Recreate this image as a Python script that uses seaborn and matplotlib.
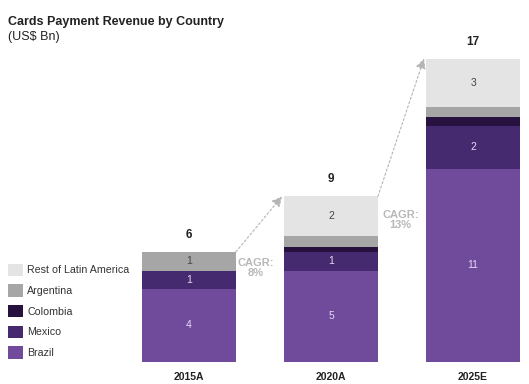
import numpy as np
import pandas as pd
import matplotlib.pyplot as plt
import seaborn as sns
from matplotlib.patches import Patch

sns.set_style('white')
plt.rcParams['font.family'] = ['Liberation Sans', 'DejaVu Sans']

years = ['2015A', '2020A', '2025E']
brazil = [4.1, 5.1, 10.8]
mexico = [1.0, 1.05, 2.4]
colombia = [0.0, 0.3, 0.5]
argentina = [1.05, 0.6, 0.55]
rest = [0.0, 2.2, 2.7]

series = ['Brazil', 'Mexico', 'Colombia', 'Argentina', 'Rest of Latin America']
colors = ['#704a9b', '#462a70', '#27123f', '#a6a6a6', '#e4e4e4']
seg_labels = {
    'Brazil': ['4', '5', '11'],
    'Mexico': ['1', '1', '2'],
    'Argentina': ['1', '', ''],
    'Rest of Latin America': ['', '2', '3'],
}
total_labels = ['6', '9', '17']
cagr_labels = ['CAGR:\n8%', 'CAGR:\n13%']

df = pd.DataFrame({'year': years, 'Brazil': brazil, 'Mexico': mexico,
                   'Colombia': colombia, 'Argentina': argentina,
                   'Rest of Latin America': rest})
cum = df[series].cumsum(axis=1)
totals = cum[series[-1]].values

fig = plt.figure(figsize=(5.29, 3.84), dpi=100)
ax = fig.add_axes([0, 0, 1, 1])

# stacked bars: draw cumulative heights from top layer down
for s, c in zip(series[::-1], colors[::-1]):
    sns.barplot(x=df['year'], y=cum[s], color=c, width=0.66, ax=ax,
                saturation=1, linewidth=0)

ax.set_xlim(-1.331, 2.394)
ax.set_ylim(-1.229, 20.22)
ax.axis('off')

# segment labels
for s in series:
    if s not in seg_labels:
        continue
    for i in range(len(years)):
        lab = seg_labels[s][i]
        if not lab:
            continue
        top = cum[s][i]
        val = df[s][i]
        col = '#444444' if s in ('Argentina', 'Rest of Latin America') else '#e6d9f5'
        ax.text(i, top - val / 2, lab, ha='center', va='center', fontsize=7.5, color=col)

# totals and category labels
for i in range(len(years)):
    ax.text(i, totals[i] + 0.95, total_labels[i], ha='center', va='center',
            fontsize=8.5, fontweight='bold', color='#222222')
    ax.text(i, -0.84, years[i], ha='center', va='center', fontsize=7.5,
            fontweight='bold', color='#222222')

# CAGR arrows
for i in range(len(years) - 1):
    ax.annotate('', xy=(i + 1 - 0.345, totals[i + 1]), xytext=(i + 0.33, totals[i]),
                arrowprops=dict(arrowstyle='-|>', color='#b5b5b5', linestyle=(0, (2, 2)),
                                lw=0.8, mutation_scale=15, shrinkA=0, shrinkB=0))
ax.text(0.47, 5.25, cagr_labels[0], ha='center', va='center', fontsize=8,
        fontweight='bold', color='#b8b8b8', linespacing=1.1)
ax.text(1.49, 7.93, cagr_labels[1], ha='center', va='center', fontsize=8,
        fontweight='bold', color='#b8b8b8', linespacing=1.1)

# title
fig.text(8 / 529, 1 - 22 / 384, 'Cards Payment Revenue by Country', ha='left', va='center',
         fontsize=9, fontweight='bold', color='#222222')
fig.text(8 / 529, 1 - 37 / 384, '(US$ Bn)', ha='left', va='center',
         fontsize=9, color='#222222')

# legend
handles = [Patch(facecolor=c, edgecolor='none', label=s)
           for s, c in zip(series[::-1], colors[::-1])]
fig.legend(handles=handles, loc='upper left', bbox_to_anchor=(-1 / 529, 1 - 255 / 384),
           frameon=False, fontsize=7.7, handlelength=1.4, handleheight=1.4,
           labelspacing=0.78, handletextpad=0.45, borderpad=0.3, labelcolor='#333333')

fig.savefig('out.png', dpi=100)
